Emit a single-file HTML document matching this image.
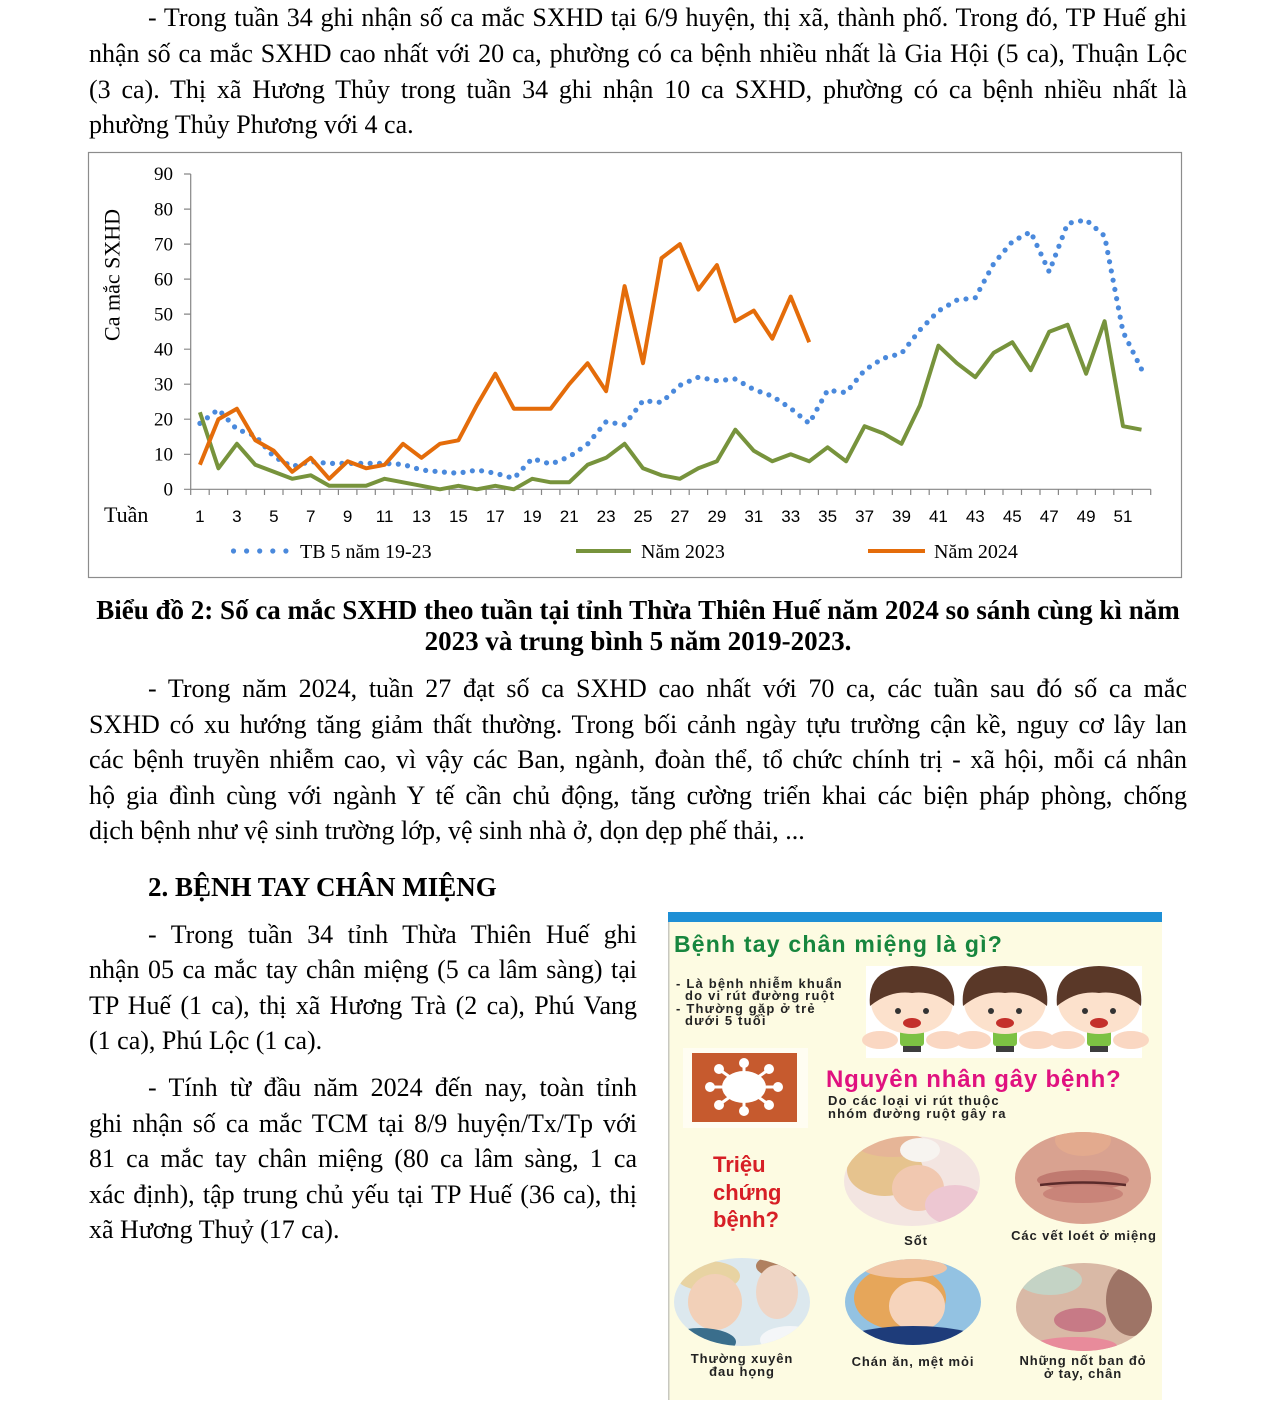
<!DOCTYPE html>
<html><head><meta charset="utf-8">
<style>
html,body{margin:0;padding:0;background:#fff}
body{width:1275px;height:1409px;position:relative;overflow:hidden}
.t{position:absolute;font-family:"Liberation Serif","Noto Serif CJK SC",serif;font-size:26px;line-height:30px;white-space:nowrap;color:#000;margin:0}
.j{white-space:normal;text-align:justify;text-align-last:justify}
.b{font-weight:bold}
svg{position:absolute;left:0;top:0}
</style></head><body>
<svg width="1275" height="1409" viewBox="0 0 1275 1409" xmlns="http://www.w3.org/2000/svg">
<defs>
<clipPath id="c1"><ellipse cx="912" cy="1181" rx="68" ry="45"/></clipPath>
<clipPath id="c2"><ellipse cx="1083" cy="1178" rx="68" ry="46"/></clipPath>
<clipPath id="c3"><ellipse cx="742" cy="1302" rx="68" ry="44"/></clipPath>
<clipPath id="c4"><ellipse cx="913" cy="1302" rx="68" ry="43"/></clipPath>
<clipPath id="c5"><ellipse cx="1084" cy="1307" rx="68" ry="44"/></clipPath>
</defs>
<!-- chart frame -->
<rect x="88.5" y="152.5" width="1093" height="425" fill="#fff" stroke="#8c8c8c" stroke-width="1.2"/>
<!-- axes -->
<g stroke="#868686" stroke-width="1.2" fill="none">
<path d="M190.7 174V489.3H1150.7"/>
<path d="M184 489.3H190.7M184 454.3H190.7M184 419.2H190.7M184 384.2H190.7M184 349.2H190.7M184 314.1H190.7M184 279.1H190.7M184 244.1H190.7M184 209.1H190.7M184 174H190.7"/>
<path d="M190.7 489.3V495M209.2 489.3V495M227.6 489.3V495M246.1 489.3V495M264.5 489.3V495M283 489.3V495M301.5 489.3V495M319.9 489.3V495M338.4 489.3V495M356.9 489.3V495M375.3 489.3V495M393.8 489.3V495M412.2 489.3V495M430.7 489.3V495M449.2 489.3V495M467.6 489.3V495M486.1 489.3V495M504.6 489.3V495M523 489.3V495M541.5 489.3V495M559.9 489.3V495M578.4 489.3V495M596.9 489.3V495M615.3 489.3V495M633.8 489.3V495M652.3 489.3V495M670.7 489.3V495M689.2 489.3V495M707.6 489.3V495M726.1 489.3V495M744.6 489.3V495M763 489.3V495M781.5 489.3V495M800 489.3V495M818.4 489.3V495M836.9 489.3V495M855.3 489.3V495M873.8 489.3V495M892.3 489.3V495M910.7 489.3V495M929.2 489.3V495M947.7 489.3V495M966.1 489.3V495M984.6 489.3V495M1003 489.3V495M1021.5 489.3V495M1040 489.3V495M1058.4 489.3V495M1076.9 489.3V495M1095.4 489.3V495M1113.8 489.3V495M1132.3 489.3V495M1150.7 489.3V495"/>
</g>
<g font-family="Liberation Serif, serif" font-size="19" fill="#000" text-anchor="end">
<text x="173" y="495.5">0</text><text x="173" y="460.5">10</text><text x="173" y="425.4">20</text><text x="173" y="390.4">30</text><text x="173" y="355.4">40</text><text x="173" y="320.3">50</text><text x="173" y="285.3">60</text><text x="173" y="250.3">70</text><text x="173" y="215.3">80</text><text x="173" y="180.2">90</text>
</g>
<text transform="translate(119.5,275) rotate(-90)" font-family="Liberation Serif, serif" font-size="22" text-anchor="middle" fill="#000">Ca mắc SXHD</text>
<text x="104" y="522" font-family="Liberation Serif, serif" font-size="22" fill="#000">Tuần</text>
<g font-family="Liberation Sans, sans-serif" font-size="17" fill="#000" text-anchor="middle">
<text x="199.9" y="522">1</text><text x="236.9" y="522">3</text><text x="273.8" y="522">5</text><text x="310.7" y="522">7</text><text x="347.6" y="522">9</text><text x="384.6" y="522">11</text><text x="421.5" y="522">13</text><text x="458.4" y="522">15</text><text x="495.3" y="522">17</text><text x="532.2" y="522">19</text><text x="569.2" y="522">21</text><text x="606.1" y="522">23</text><text x="643" y="522">25</text><text x="679.9" y="522">27</text><text x="716.9" y="522">29</text><text x="753.8" y="522">31</text><text x="790.7" y="522">33</text><text x="827.6" y="522">35</text><text x="864.6" y="522">37</text><text x="901.5" y="522">39</text><text x="938.4" y="522">41</text><text x="975.3" y="522">43</text><text x="1012.3" y="522">45</text><text x="1049.2" y="522">47</text><text x="1086.1" y="522">49</text><text x="1123" y="522">51</text>
</g>
<!-- series -->
<polyline fill="none" stroke="#4A89DC" stroke-width="5.2" stroke-linecap="round" stroke-linejoin="round" stroke-dasharray="0 9.4" points="199.9,423.4 218.4,409.4 236.9,429.4 255.3,435.7 273.8,456.7 292.2,466.5 310.7,461.6 329.2,463.4 347.6,463.4 366.1,463.4 384.6,463.4 403,464.4 421.5,470 439.9,471.8 458.4,473.2 476.9,470 495.3,473.2 513.8,478.4 532.2,458.5 550.7,464.1 569.2,456.7 587.6,444.1 606.1,421.7 624.6,424.8 643,400.7 661.5,402.4 679.9,385.3 698.4,377.2 716.9,380.7 735.3,379 753.8,389.5 772.3,396.1 790.7,408.4 809.2,423.4 827.6,390.2 846.1,392.6 864.6,370.2 883,358.3 901.5,353.4 920,329.9 938.4,311 956.9,300.1 975.3,297.7 993.8,263.4 1012.3,241.6 1030.7,231.8 1049.2,271.8 1067.6,223.4 1086.1,219.9 1104.6,236 1123,331.7 1141.5,369.2"/>
<polyline fill="none" stroke="#77933C" stroke-width="4" stroke-linejoin="round" points="199.9,412.2 218.4,468.3 236.9,443.8 255.3,464.8 273.8,471.8 292.2,478.8 310.7,475.3 329.2,485.8 347.6,485.8 366.1,485.8 384.6,478.8 403,482.3 421.5,485.8 439.9,489.3 458.4,485.8 476.9,489.3 495.3,485.8 513.8,489.3 532.2,478.8 550.7,482.3 569.2,482.3 587.6,464.8 606.1,457.8 624.6,443.8 643,468.3 661.5,475.3 679.9,478.8 698.4,468.3 716.9,461.3 735.3,429.7 753.8,450.8 772.3,461.3 790.7,454.3 809.2,461.3 827.6,447.3 846.1,461.3 864.6,426.2 883,433.2 901.5,443.8 920,405.2 938.4,345.7 956.9,363.2 975.3,377.2 993.8,352.7 1012.3,342.2 1030.7,370.2 1049.2,331.7 1067.6,324.7 1086.1,373.7 1104.6,321.2 1123,426.2 1141.5,429.7"/>
<polyline fill="none" stroke="#E46C0A" stroke-width="4" stroke-linejoin="round" points="199.9,464.8 218.4,419.2 236.9,408.7 255.3,440.3 273.8,450.8 292.2,471.8 310.7,457.8 329.2,478.8 347.6,461.3 366.1,468.3 384.6,464.8 403,443.8 421.5,457.8 439.9,443.8 458.4,440.3 476.9,405.2 495.3,373.7 513.8,408.7 532.2,408.7 550.7,408.7 569.2,384.2 587.6,363.2 606.1,391.2 624.6,286.1 643,363.2 661.5,258.1 679.9,244.1 698.4,289.6 716.9,265.1 735.3,321.2 753.8,310.6 772.3,338.7 790.7,296.6 809.2,342.2"/>
<!-- legend -->
<g fill="#4A89DC"><circle cx="233.5" cy="551" r="2.6"/><circle cx="246.6" cy="551" r="2.6"/><circle cx="259.7" cy="551" r="2.6"/><circle cx="272.8" cy="551" r="2.6"/><circle cx="285.9" cy="551" r="2.6"/></g>
<line x1="576" y1="551" x2="631" y2="551" stroke="#77933C" stroke-width="4"/>
<line x1="868" y1="551" x2="925" y2="551" stroke="#E46C0A" stroke-width="4"/>
<g font-family="Liberation Serif, serif" font-size="20" fill="#000">
<text x="300" y="558">TB 5 năm 19-23</text><text x="641" y="558">Năm 2023</text><text x="934" y="558">Năm 2024</text>
</g>

<!-- infographic -->
<rect x="668" y="912" width="494" height="488" fill="#FDFBE2"/>
<rect x="668" y="912" width="1.5" height="488" fill="#c8c8c0"/>
<rect x="668" y="912" width="494" height="10" fill="#1E8FD5"/>
<text x="674" y="952" font-family="Liberation Sans, sans-serif" font-weight="bold" font-size="23" letter-spacing="1.2" fill="#17863E">Bệnh tay chân miệng là gì?</text>
<g font-family="Liberation Sans, sans-serif" font-weight="bold" font-size="13" letter-spacing="1.2" fill="#222">
<text x="676" y="988">- Là bệnh nhiễm khuẩn</text>
<text x="685" y="1000">do vi rút đường ruột</text>
<text x="676" y="1013">- Thường gặp ở trẻ</text>
<text x="685" y="1025">dưới 5 tuổi</text>
<text x="828" y="1105">Do các loại vi rút thuộc</text>
<text x="828" y="1118">nhóm đường ruột gây ra</text>
</g>
<rect x="866" y="966" width="276" height="92" fill="#FFFFFF"/>
<g>
<g id="kid">
<ellipse cx="912" cy="1040" rx="18" ry="9" fill="#FAD7C2" transform="translate(-32,0)"/>
<ellipse cx="912" cy="1040" rx="18" ry="9" fill="#FAD7C2" transform="translate(32,0)"/>
<rect x="900" y="1030" width="24" height="16" rx="3" fill="#7CC143"/>
<rect x="903" y="1046" width="18" height="6" fill="#3d3d3d"/>
<ellipse cx="912" cy="1002" rx="41" ry="32" fill="#FCE1CC"/>
<path d="M870 1006 Q866 967 912 966 Q958 967 954 1006 Q934 990 912 993 Q890 990 870 1006Z" fill="#5A3828"/>
<circle cx="898" cy="1011" r="3" fill="#333"/><circle cx="926" cy="1011" r="3" fill="#333"/>
<ellipse cx="912" cy="1023" rx="9" ry="5" fill="#C4302B"/>
</g>
<use href="#kid" transform="translate(93,0)"/>
<use href="#kid" transform="translate(187,0)"/>
</g>
<rect x="683" y="1048" width="125" height="80" fill="#FFFDF2"/>
<rect x="692" y="1053" width="105" height="69" fill="#C65A2E"/>
<g fill="#fff" stroke="#fff">
<ellipse cx="744" cy="1087" rx="22" ry="16" stroke="none"/>
<g stroke-width="3">
<line x1="744" y1="1087" x2="777" y2="1087"/><line x1="744" y1="1087" x2="711" y2="1087"/>
<line x1="744" y1="1087" x2="744" y2="1064"/><line x1="744" y1="1087" x2="744" y2="1110"/>
<line x1="744" y1="1087" x2="768" y2="1070"/><line x1="744" y1="1087" x2="720" y2="1070"/>
<line x1="744" y1="1087" x2="768" y2="1104"/><line x1="744" y1="1087" x2="720" y2="1104"/>
</g>
<circle cx="778" cy="1087" r="4.5"/><circle cx="710" cy="1087" r="4.5"/><circle cx="744" cy="1063" r="4.5"/><circle cx="744" cy="1111" r="4.5"/>
<circle cx="769" cy="1069" r="4.5"/><circle cx="719" cy="1069" r="4.5"/><circle cx="769" cy="1105" r="4.5"/><circle cx="719" cy="1105" r="4.5"/>
</g>
<text x="826" y="1087" font-family="Liberation Sans, sans-serif" font-weight="bold" font-size="24" letter-spacing="0.8" fill="#E0117F">Nguyên nhân gây bệnh?</text>
<g font-family="Liberation Sans, sans-serif" font-weight="bold" font-size="22" fill="#D71F26">
<text x="713" y="1172">Triệu</text><text x="713" y="1200">chứng</text><text x="713" y="1227">bệnh?</text>
</g>
<!-- photo 1 -->
<g clip-path="url(#c1)">
<rect x="840" y="1130" width="150" height="100" fill="#F3E5E1"/>
<ellipse cx="885" cy="1170" rx="38" ry="26" fill="#E6C38E"/>
<ellipse cx="918" cy="1188" rx="26" ry="23" fill="#F1C8B0"/>
<ellipse cx="893" cy="1145" rx="36" ry="12" fill="#E6B597"/>
<ellipse cx="920" cy="1150" rx="20" ry="12" fill="#F7F4F0"/>
<ellipse cx="955" cy="1205" rx="30" ry="20" fill="#EDC7D2"/>
</g>
<!-- photo 2 -->
<g clip-path="url(#c2)">
<rect x="1010" y="1128" width="150" height="100" fill="#D9A290"/>
<ellipse cx="1083" cy="1140" rx="28" ry="16" fill="#E3AA8E"/>
<ellipse cx="1083" cy="1180" rx="46" ry="10" fill="#C07A70"/>
<ellipse cx="1083" cy="1194" rx="40" ry="9" fill="#C98479"/>
<path d="M1040 1185 Q1083 1180 1126 1185" stroke="#5A2A2A" stroke-width="2.5" fill="none"/>
</g>
<!-- photo 3 -->
<g clip-path="url(#c3)">
<rect x="670" y="1255" width="150" height="95" fill="#DCE8EE"/>
<ellipse cx="708" cy="1276" rx="32" ry="15" fill="#E8D3A2"/>
<ellipse cx="715" cy="1302" rx="27" ry="28" fill="#F2D0B8"/>
<ellipse cx="782" cy="1266" rx="26" ry="12" fill="#B0805F"/>
<ellipse cx="777" cy="1292" rx="21" ry="27" fill="#EFD5C5"/>
<ellipse cx="700" cy="1342" rx="36" ry="14" fill="#3A6E8C"/>
<ellipse cx="790" cy="1340" rx="30" ry="14" fill="#F4F6F8"/>
</g>
<!-- photo 4 -->
<g clip-path="url(#c4)">
<rect x="840" y="1255" width="150" height="95" fill="#93C2E2"/>
<ellipse cx="900" cy="1298" rx="46" ry="32" fill="#E6A65A"/>
<ellipse cx="917" cy="1306" rx="28" ry="25" fill="#F6D4BC"/>
<ellipse cx="905" cy="1268" rx="42" ry="10" fill="#F0C4A4"/>
<ellipse cx="913" cy="1342" rx="70" ry="16" fill="#1E3C7A"/>
</g>
<!-- photo 5 -->
<g clip-path="url(#c5)">
<rect x="1012" y="1260" width="150" height="95" fill="#D9B9A6"/>
<ellipse cx="1050" cy="1280" rx="32" ry="15" fill="#C4D3C5"/>
<ellipse cx="1132" cy="1300" rx="26" ry="36" fill="#9E7466"/>
<ellipse cx="1080" cy="1320" rx="26" ry="12" fill="#C77A86"/>
<ellipse cx="1075" cy="1346" rx="42" ry="9" fill="#E88B9B"/>
</g>
<g font-family="Liberation Sans, sans-serif" font-weight="bold" font-size="13" letter-spacing="0.9" fill="#222" text-anchor="middle">
<text x="916" y="1245">Sốt</text>
<text x="1084" y="1240">Các vết loét ở miệng</text>
<text x="742" y="1363">Thường xuyên</text><text x="742" y="1376">đau họng</text>
<text x="913" y="1366">Chán ăn, mệt mỏi</text>
<text x="1083" y="1365">Những nốt ban đỏ</text><text x="1083" y="1378">ở tay, chân</text>
</g>
</svg>

<div class="t j" style="left:148px;top:3px;width:1039px">- Trong tuần 34 ghi nhận số ca mắc SXHD tại 6/9 huyện, thị xã, thành phố. Trong đó, TP Huế ghi</div>
<div class="t j" style="left:89px;top:39px;width:1098px">nhận số ca mắc SXHD cao nhất với 20 ca, phường có ca bệnh nhiều nhất là Gia Hội (5 ca), Thuận Lộc</div>
<div class="t j" style="left:89px;top:75px;width:1098px">(3 ca). Thị xã Hương Thủy trong tuần 34 ghi nhận 10 ca SXHD, phường có ca bệnh nhiều nhất là</div>
<div class="t" style="left:89px;top:110px">phường Thủy Phương với 4 ca.</div>

<div class="t b" style="left:0;top:595px;width:1276px;text-align:center;font-size:27px">Biểu đồ 2: Số ca mắc SXHD theo tuần tại tỉnh Thừa Thiên Huế năm 2024 so sánh cùng kì năm</div>
<div class="t b" style="left:0;top:626px;width:1276px;text-align:center;font-size:27px">2023 và trung bình 5 năm 2019-2023.</div>

<div class="t j" style="left:148px;top:674px;width:1039px">- Trong năm 2024, tuần 27 đạt số ca SXHD cao nhất với 70 ca, các tuần sau đó số ca mắc</div>
<div class="t j" style="left:89px;top:710px;width:1098px">SXHD có xu hướng tăng giảm thất thường. Trong bối cảnh ngày tựu trường cận kề, nguy cơ lây lan</div>
<div class="t j" style="left:89px;top:745px;width:1098px">các bệnh truyền nhiễm cao, vì vậy các Ban, ngành, đoàn thể, tổ chức chính trị - xã hội, mỗi cá nhân</div>
<div class="t j" style="left:89px;top:781px;width:1098px">hộ gia đình cùng với ngành Y tế cần chủ động, tăng cường triển khai các biện pháp phòng, chống</div>
<div class="t" style="left:89px;top:816px">dịch bệnh như vệ sinh trường lớp, vệ sinh nhà ở, dọn dẹp phế thải, ...</div>

<div class="t b" style="left:148px;top:872px;font-size:27px">2. BỆNH TAY CHÂN MIỆNG</div>

<div class="t j" style="left:148px;top:920px;width:489px">- Trong tuần 34 tỉnh Thừa Thiên Huế ghi</div>
<div class="t j" style="left:89px;top:955px;width:548px">nhận 05 ca mắc tay chân miệng (5 ca lâm sàng) tại</div>
<div class="t j" style="left:89px;top:991px;width:548px">TP Huế (1 ca), thị xã Hương Trà (2 ca), Phú Vang</div>
<div class="t" style="left:89px;top:1026px">(1 ca), Phú Lộc (1 ca).</div>

<div class="t j" style="left:148px;top:1073px;width:489px">- Tính từ đầu năm 2024 đến nay, toàn tỉnh</div>
<div class="t j" style="left:89px;top:1109px;width:548px">ghi nhận số ca mắc TCM tại 8/9 huyện/Tx/Tp với</div>
<div class="t j" style="left:89px;top:1144px;width:548px">81 ca mắc tay chân miệng (80 ca lâm sàng, 1 ca</div>
<div class="t j" style="left:89px;top:1180px;width:548px">xác định), tập trung chủ yếu tại TP Huế (36 ca), thị</div>
<div class="t" style="left:89px;top:1215px">xã Hương Thuỷ (17 ca).</div>
</body></html>
